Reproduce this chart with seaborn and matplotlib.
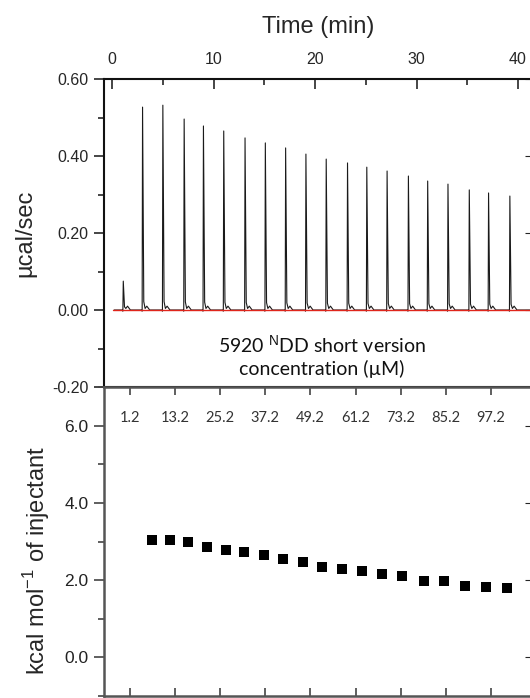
import matplotlib
matplotlib.use('Agg')
import matplotlib.pyplot as plt
import seaborn as sns
import pandas as pd
from matplotlib.ticker import MultipleLocator, FixedLocator, FormatStrFormatter

# raw thermogram: injection times (min) and peak heights (ucal/sec)
inj_time = [1.1, 3.0, 5.0, 7.1, 9.0, 11.0, 13.1, 15.1, 17.1, 19.1,
            21.1, 23.2, 25.1, 27.1, 29.2, 31.1, 33.1, 35.2, 37.1, 39.2]
peak_height = [0.075, 0.527, 0.532, 0.496, 0.478, 0.465, 0.447, 0.434, 0.421, 0.405,
               0.392, 0.382, 0.371, 0.361, 0.348, 0.335, 0.327, 0.312, 0.304, 0.296]

# shape of one spike: time offset, fraction of peak height, small tail (ucal/sec)
spike_dt = [-0.12, -0.04, 0.0, 0.12, 0.25, 0.42, 0.7]
spike_frac = [0, 0, 1, 0.03, 0, 0, 0]
spike_tail = [0, -0.003, 0, 0.006, 0.004, 0.010, 0.0]

# red baseline
base_time = [0.1, 41.6]
base_power = [0.0, 0.0]

# integrated heats vs titrant concentration
conc = [7.0, 11.8, 16.6, 21.7, 26.7, 31.5, 36.8, 41.9, 47.2, 52.3,
        57.6, 62.9, 68.2, 73.5, 79.4, 84.7, 90.3, 95.9, 101.5]
heat = [3.05, 3.05, 2.98, 2.87, 2.79, 2.72, 2.64, 2.54, 2.46, 2.35,
        2.28, 2.23, 2.17, 2.10, 1.99, 1.97, 1.86, 1.81, 1.79]
conc_ticks = [1.2, 13.2, 25.2, 37.2, 49.2, 61.2, 73.2, 85.2, 97.2]

# build the trace
t_list, p_list = [0.2], [0.0]
for t0, h in zip(inj_time, peak_height):
    for dt, f, a in zip(spike_dt, spike_frac, spike_tail):
        t_list.append(t0 + dt)
        p_list.append(f * h + a)
t_list.append(41.6)
p_list.append(0.0)
trace = pd.DataFrame({'time': t_list, 'power': p_list})
base = pd.DataFrame({'time': base_time, 'power': base_power})
heats = pd.DataFrame({'conc': conc, 'heat': heat})

sns.set_style('ticks')
plt.rcParams['font.family'] = ['Liberation Sans', 'DejaVu Sans']
plt.rcParams['mathtext.fontset'] = 'custom'
plt.rcParams['mathtext.rm'] = 'Liberation Sans'

fig = plt.figure(figsize=(5.3, 6.98), dpi=100)
# right spine sits just outside the picture, as in the cropped original
ax1 = fig.add_axes([104/530, 1 - 387/698, 429/530, 308/698])
ax2 = fig.add_axes([104/530, 1 - 696/698, 429/530, 309/698])

# --- top panel: raw power ---
sns.lineplot(data=trace, x='time', y='power', ax=ax1, color='#1a1a1a',
             linewidth=0.8, sort=False, estimator=None)
sns.lineplot(data=base, x='time', y='power', ax=ax1, color='#e0251b',
             linewidth=1.0, sort=False, estimator=None)
ax1.set_xlim(-0.8, 41.48)
ax1.set_ylim(-0.2, 0.6)
ax1.xaxis.tick_top()
ax1.xaxis.set_label_position('top')
ax1.set_xticks([0, 10, 20, 30, 40])
ax1.xaxis.set_minor_locator(MultipleLocator(5))
ax1.tick_params(axis='x', which='major', direction='in', length=7, width=1.2,
                top=True, bottom=False, labeltop=True, labelbottom=False,
                labelsize=11.5, pad=9)
ax1.tick_params(axis='x', which='minor', direction='in', length=4, width=1.2,
                top=True, bottom=False)
ax1.set_xlabel('Time (min)', fontsize=17, labelpad=13)
ax1.set_yticks([-0.2, 0.0, 0.2, 0.4, 0.6])
ax1.yaxis.set_minor_locator(MultipleLocator(0.1))
ax1.yaxis.set_major_formatter(FormatStrFormatter('%.2f'))
ax1.tick_params(axis='y', which='major', direction='out', length=7, width=1.2,
                labelsize=11.5, pad=4)
ax1.tick_params(axis='y', which='minor', direction='out', length=4, width=1.2)
ax1.set_ylabel('µcal/sec', fontsize=17)
ax1.yaxis.set_label_coords(-0.157, 0.5)
for s in ax1.spines.values():
    s.set_color('#111111')
    s.set_linewidth(1.5)
r1 = ax1.secondary_yaxis('right')
r1.set_yticks([-0.2, 0.0, 0.2, 0.4, 0.6])
r1.tick_params(direction='in', length=6, labelright=False)

ax1.text(0.508, 0.1, '5920 $^{\\mathrm{N}}$DD short version\nconcentration (µM)',
         transform=ax1.transAxes, ha='center', va='center', fontsize=14,
         family=['Lato', 'DejaVu Sans'], linespacing=1.25, color='#111111')

# --- bottom panel: integrated heats ---
sns.scatterplot(data=heats, x='conc', y='heat', ax=ax2, marker='s', s=55,
                color='black', edgecolor='black', linewidth=0)
ax2.set_xlim(-5.7, 108.4)
ax2.set_ylim(-1.0, 7.0)
ax2.xaxis.set_major_locator(FixedLocator(conc_ticks))
ax2.set_xticklabels([f'{c:.1f}' for c in conc_ticks])
ax2.tick_params(axis='x', which='major', direction='in', length=6, width=1.2,
                top=True, bottom=True, labeltop=True, labelbottom=False,
                labelsize=10.5, pad=-27, labelcolor='#333333', color='#444444',
                labelfontfamily='Lato')
ax2.set_xlabel('')
ax2.set_yticks([0, 2, 4, 6])
ax2.yaxis.set_minor_locator(MultipleLocator(1))
ax2.yaxis.set_major_formatter(FormatStrFormatter('%.1f'))
ax2.tick_params(axis='y', which='major', direction='out', length=7, width=1.2,
                labelsize=12.5, pad=4, color='#444444', labelcolor='#222222')
ax2.tick_params(axis='y', which='minor', direction='out', length=4, width=1.2,
                color='#444444')
ax2.set_ylabel('kcal mol$^{-1}$ of injectant', fontsize=17)
ax2.yaxis.set_label_coords(-0.122, 0.44)
for s in ax2.spines.values():
    s.set_color('#555555')
    s.set_linewidth(1.8)
r2 = ax2.secondary_yaxis('right')
r2.set_yticks([0, 2, 4, 6])
r2.tick_params(direction='in', length=6, labelright=False)

fig.savefig('out.png', dpi=100)
